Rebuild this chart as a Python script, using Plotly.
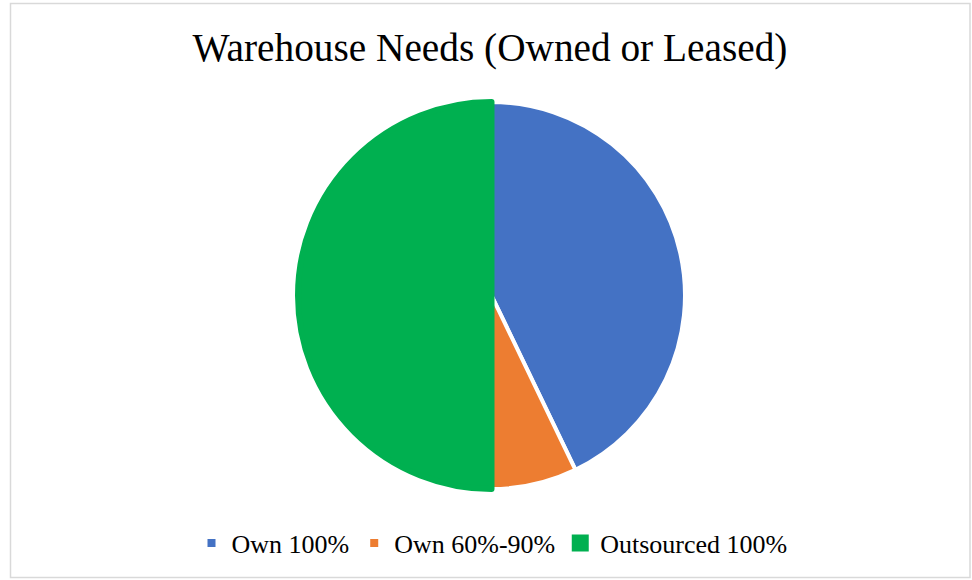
import plotly.graph_objects as go

labels = ["Own 100%", "Own 60%-90%", "Outsourced 100%"]
values = [6, 1, 7]
colors = ["#4472C4", "#ED7D31", "#00B050"]
line_colors = ["white", "white", "#00B050"]
line_widths = [4, 4, 6]

W, H = 972, 580
cx, cy, r = 491.5, 295.5, 193.5

fig = go.Figure(go.Pie(
    labels=labels, values=values, sort=False, direction="clockwise", rotation=0,
    marker=dict(colors=colors, line=dict(color=line_colors, width=line_widths)),
    textinfo="none", hoverinfo="label+percent",
    domain=dict(x=[(cx - (W - cx)) / W, 1.0], y=[(H - cy - r) / H, (H - cy + r) / H]),
))

fig.update_layout(
    width=W, height=H, margin=dict(l=0, r=0, t=0, b=0),
    paper_bgcolor="white", plot_bgcolor="white",
    title=dict(text="Warehouse Needs (Owned or Leased)", x=(192 + 788) / 2 / W, xanchor="center",
               y=1 - 47 / H, yanchor="middle", yref="paper",
               font=dict(family="Liberation Serif", size=39.3, color="black")),
    legend=dict(orientation="h", x=492 / W, xanchor="center", y=1 - 543 / H, yanchor="middle",
                font=dict(family="Liberation Serif", size=26, color="black"),
                itemwidth=30, tracegroupgap=0),
    shapes=[dict(type="rect", xref="paper", yref="paper", x0=10.5 / W, x1=970 / W,
                 y0=1 - 577.5 / H, y1=1 - 3.5 / H, line=dict(color="#d9d9d9", width=1.5))],
)

fig.write_html("out.html")
